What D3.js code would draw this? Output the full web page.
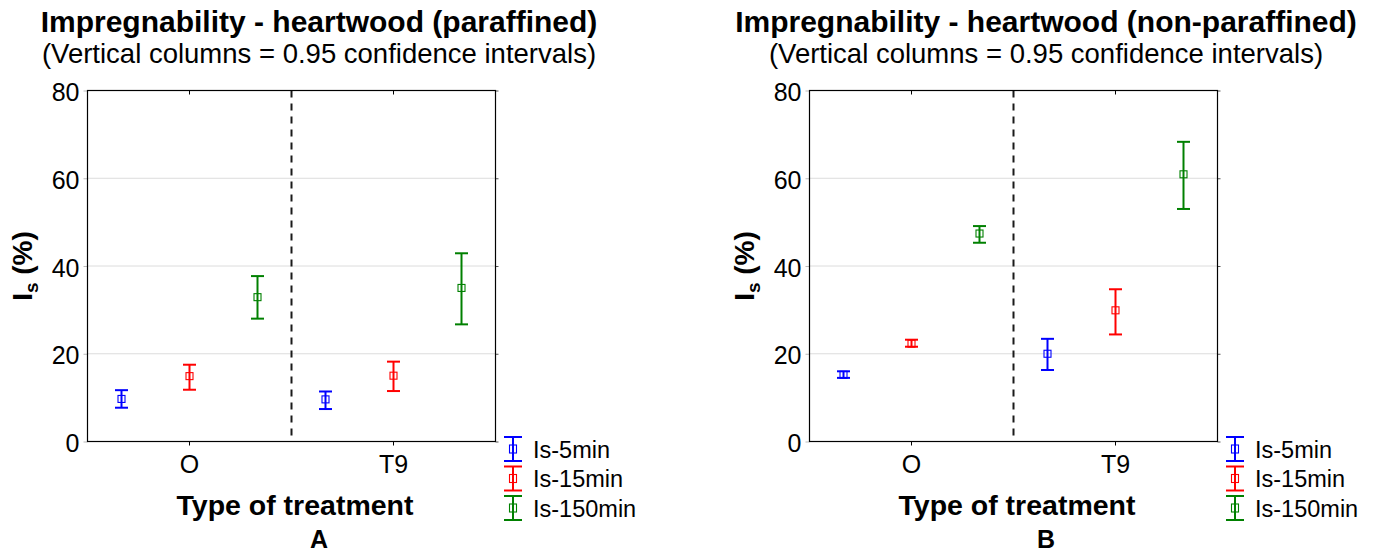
<!DOCTYPE html>
<html lang="en">
<head>
<meta charset="UTF-8">
<title>Impregnability - heartwood</title>
<script src="https://cdnjs.cloudflare.com/ajax/libs/d3/7.8.5/d3.min.js"></script>
<style>
    body { margin: 0; background: #fff; }
    svg { display: block; font-family: "Liberation Sans", Arial, sans-serif; }
    .frame { fill: none; stroke: #000; stroke-width: 1.2; }
    .grid line { stroke: #dcdcdc; stroke-width: 1; }
    .sep { stroke: #1a1a1a; stroke-width: 2; stroke-dasharray: 7,6; }
</style>
</head>
<body>
<div id="chart"></div>
<script>
    // data
    const categories = ["O", "T9"];
    const series = ["Is-5min", "Is-15min", "Is-150min"];
    const colors = ["#0000ff", "#ff0000", "#008000"];
    const yTicks = [0, 20, 40, 60, 80];

    // [category][series]
    const paraffinedMean = [[9.7, 14.9, 32.9], [9.6, 15.0, 35.0]];
    const paraffinedLow = [[7.7, 11.8, 28.0], [7.4, 11.5, 26.7]];
    const paraffinedHigh = [[11.7, 17.5, 37.7], [11.4, 18.2, 42.9]];

    const nonParMean = [[15.2, 22.3, 47.4], [20.0, 29.9, 60.9]];
    const nonParLow = [[14.5, 21.6, 45.3], [16.3, 24.4, 53.0]];
    const nonParHigh = [[16.0, 23.2, 49.1], [23.4, 34.7, 68.3]];

    const width = 1376, height = 556;
    const plotW = 408, plotH = 351, plotTop = 90.5;

    const svg = d3.select('#chart')
        .append('svg')
        .attr('width', width)
        .attr('height', height);

    const y = d3.scaleLinear().domain([0, 80]).range([plotH, 0]);
    const xCat = d3.scaleBand().domain(categories).range([0, plotW]);
    const xSer = d3.scalePoint().domain(series).range([0, xCat.bandwidth()]).padding(0.5);

    function drawPanel(left, centerX, title, mean, low, high, letter) {
        // titles
        svg.append('text')
            .attr('x', centerX).attr('y', 32)
            .attr('text-anchor', 'middle')
            .style('font-size', '30px').style('font-weight', 'bold')
            .text(title);
        svg.append('text')
            .attr('x', centerX).attr('y', 63)
            .attr('text-anchor', 'middle')
            .style('font-size', '27.5px')
            .text('(Vertical columns = 0.95 confidence intervals)');

        const g = svg.append('g').attr('transform', `translate(${left + 0.5},${plotTop})`);

        // grid
        g.append('g').attr('class', 'grid')
            .selectAll('line')
            .data(yTicks.filter(t => t > 0 && t < 80))
            .enter().append('line')
            .attr('x1', 0).attr('x2', plotW)
            .attr('y1', d => y(d)).attr('y2', d => y(d));

        // y axis
        const ya = g.append('g')
            .call(d3.axisLeft(y).tickValues(yTicks).tickSize(4).tickPadding(4));
        ya.select('.domain').remove();
        ya.selectAll('line').attr('stroke', '#bbb');
        ya.selectAll('text')
            .attr('dy', '0.4em')
            .style('font-size', '25px').attr('fill', '#000');

        // right side small ticks
        const yr = g.append('g').attr('transform', `translate(${plotW},0)`)
            .call(d3.axisRight(y).tickValues(yTicks).tickSize(3).tickFormat(''));
        yr.select('.domain').remove();
        yr.selectAll('line').attr('stroke', '#555');

        // x axis
        const xa = g.append('g').attr('transform', `translate(0,${plotH})`)
            .call(d3.axisBottom(xCat).tickSize(4).tickPadding(10));
        xa.select('.domain').remove();
        xa.selectAll('text').style('font-size', '25px').attr('fill', '#000');
        const xt = g.append('g')
            .call(d3.axisTop(xCat).tickSize(-4).tickFormat(''));
        xt.select('.domain').remove();

        // separator between treatments
        g.append('line').attr('class', 'sep')
            .attr('x1', xCat('T9')).attr('x2', xCat('T9'))
            .attr('y1', 0).attr('y2', plotH);

        g.append('rect').attr('class', 'frame')
            .attr('width', plotW).attr('height', plotH);

        // error bars
        const pts = [];
        categories.forEach((c, ci) => {
            series.forEach((s, si) => {
                pts.push({ c: c, s: s, i: si, m: mean[ci][si], lo: low[ci][si], hi: high[ci][si] });
            });
        });
        const eb = g.selectAll('.eb').data(pts).enter().append('g')
            .attr('class', 'eb')
            .attr('transform', d => `translate(${xCat(d.c) + xSer(d.s)},0)`)
            .attr('stroke', d => colors[d.i])
            .attr('fill', 'none');
        eb.append('line').attr('stroke-width', 2)
            .attr('y1', d => y(d.lo)).attr('y2', d => y(d.hi));
        eb.append('line').attr('stroke-width', 2)
            .attr('x1', -6.5).attr('x2', 6.5)
            .attr('y1', d => y(d.hi)).attr('y2', d => y(d.hi));
        eb.append('line').attr('stroke-width', 2)
            .attr('x1', -6.5).attr('x2', 6.5)
            .attr('y1', d => y(d.lo)).attr('y2', d => y(d.lo));
        eb.append('rect').attr('stroke-width', 1.1)
            .attr('x', -3.5).attr('y', d => y(d.m) - 3.5)
            .attr('width', 7).attr('height', 7);

        // axis titles
        const yl = svg.append('text')
            .attr('transform', `translate(${left - 55},${plotTop + plotH / 2}) rotate(-90)`)
            .attr('text-anchor', 'middle')
            .style('font-size', '28px').style('font-weight', 'bold');
        yl.append('tspan').text('I');
        yl.append('tspan').attr('dy', 6).style('font-size', '19px').text('s');
        yl.append('tspan').attr('dy', -6).text(' (%)');

        svg.append('text')
            .attr('x', left + plotW / 2 + 4).attr('y', 515)
            .attr('text-anchor', 'middle')
            .style('font-size', '28.5px').style('font-weight', 'bold')
            .text('Type of treatment');

        svg.append('text')
            .attr('x', centerX).attr('y', 548)
            .attr('text-anchor', 'middle')
            .style('font-size', '25px').style('font-weight', 'bold')
            .text(letter);

        // legend
        const lg = svg.append('g').attr('transform', `translate(${left + plotW + 18},449)`);
        const item = lg.selectAll('.item').data(series).enter().append('g')
            .attr('transform', (d, i) => `translate(0,${i * 29.5})`);
        item.append('line').attr('stroke', (d, i) => colors[i]).attr('stroke-width', 2)
            .attr('y1', -12).attr('y2', 12);
        item.append('line').attr('stroke', (d, i) => colors[i]).attr('stroke-width', 2)
            .attr('x1', -9).attr('x2', 9).attr('y1', -12).attr('y2', -12);
        item.append('line').attr('stroke', (d, i) => colors[i]).attr('stroke-width', 2)
            .attr('x1', -9).attr('x2', 9).attr('y1', 12).attr('y2', 12);
        item.append('rect').attr('stroke', (d, i) => colors[i]).attr('fill', 'none')
            .attr('stroke-width', 1.1)
            .attr('x', -3.5).attr('y', -4).attr('width', 7).attr('height', 8);
        item.append('text')
            .attr('x', 20).attr('y', 8.5)
            .style('font-size', '23.5px')
            .text(d => d);
    }

    drawPanel(87, 319, 'Impregnability - heartwood (paraffined)',
        paraffinedMean, paraffinedLow, paraffinedHigh, 'A');
    drawPanel(809, 1046, 'Impregnability - heartwood (non-paraffined)',
        nonParMean, nonParLow, nonParHigh, 'B');
</script>
</body>
</html>
